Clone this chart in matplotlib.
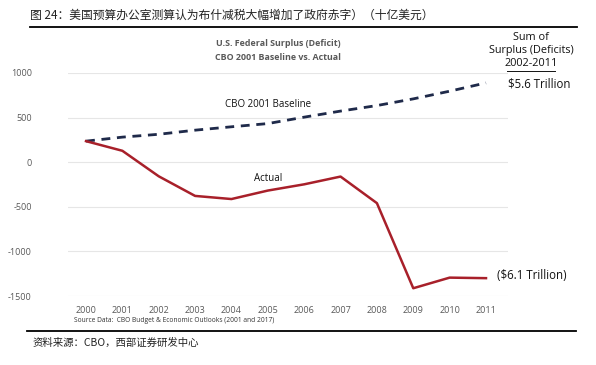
import matplotlib.pyplot as plt
from matplotlib.lines import Line2D

plt.rcParams['font.family'] = ['Open Sans', 'DejaVu Sans']
plt.rcParams['axes.unicode_minus'] = False

years = [2000, 2001, 2002, 2003, 2004, 2005, 2006, 2007, 2008, 2009, 2010, 2011]
baseline = [236, 281, 313, 359, 397, 433, 505, 573, 635, 710, 796, 889]
actual = [236, 128, -158, -378, -413, -318, -248, -161, -459, -1413, -1294, -1300]
yticks = [1000, 500, 0, -500, -1000, -1500]

W, H = 596, 365
fig = plt.figure(figsize=(W / 100, H / 100), dpi=100)

def fx(px):
    return px / W

def fy(py):
    return 1 - py / H

ax = fig.add_axes([fx(68), fy(296), fx(440), (296 - 73) / H])
ax.plot(years, baseline, color='#1f2a4a', lw=2, ls=(0, (3.2, 2.4)))
ax.plot(years, actual, color='#a8202a', lw=1.8)
ax.set_xlim(1999.505, 2011.605)
ax.set_ylim(-1500, 1000)
ax.set_yticks(yticks)
ax.set_xticks(years)
ax.tick_params(length=0, labelsize=6.5, colors='#595959', pad=7)
ax.tick_params(axis='y', pad=26)
ax.grid(axis='y', color='#e6e6e6', lw=0.8)
ax.set_axisbelow(True)
for s in ax.spines.values():
    s.set_visible(False)

ax.text(2005, 645, 'CBO 2001 Baseline', ha='center', va='center', fontsize=7, color='#111111')
ax.text(2005, -180, 'Actual', ha='center', va='center', fontsize=7, color='#111111')
ax.text(2011.6, 880, '$5.6 Trillion', ha='left', va='center', fontsize=8.3, color='#111111')
ax.text(2011.3, -1265, '($6.1 Trillion)', ha='left', va='center', fontsize=8.3, color='#111111')

# header / footer
fig.text(fx(30), fy(15), '图 24：美国预算办公室测算认为布什减税大幅增加了政府赤字）（十亿美元）',
         family=['Noto Sans CJK SC', 'DejaVu Sans'], fontsize=8.5, va='center', ha='left', color='#222222')
fig.add_artist(Line2D([fx(30), fx(577)], [fy(26.5), fy(26.5)], color='black', lw=1.3))
fig.add_artist(Line2D([fx(27), fx(576)], [fy(330.5), fy(330.5)], color='black', lw=1.3))
fig.text(fx(33), fy(343), '资料来源：CBO，西部证券研发中心',
         family=['Noto Sans CJK SC', 'DejaVu Sans'], fontsize=7.5, va='center', ha='left', color='#222222')

fig.text(fx(278), fy(43), 'U.S. Federal Surplus (Deficit)', ha='center', va='center',
         fontsize=6.4, color='#595959', weight='bold')
fig.text(fx(278), fy(58), 'CBO 2001 Baseline vs. Actual', ha='center', va='center',
         fontsize=6.4, color='#595959', weight='bold')

fig.text(fx(531), fy(37), 'Sum of', ha='center', va='center', fontsize=7.8, color='#111111')
fig.text(fx(531), fy(51), 'Surplus (Deficits)', ha='center', va='center', fontsize=7.8, color='#111111')
fig.text(fx(531), fy(64), '2002-2011', ha='center', va='center', fontsize=7.8, color='#111111')
fig.add_artist(Line2D([fx(507), fx(555)], [fy(70.5), fy(70.5)], color='#111111', lw=0.7))

fig.text(fx(74), fy(321), 'Source Data:  CBO Budget & Economic Outlooks (2001 and 2017)',
         ha='left', va='center', fontsize=4.8, color='#333333')

fig.savefig('out.png', dpi=100)
